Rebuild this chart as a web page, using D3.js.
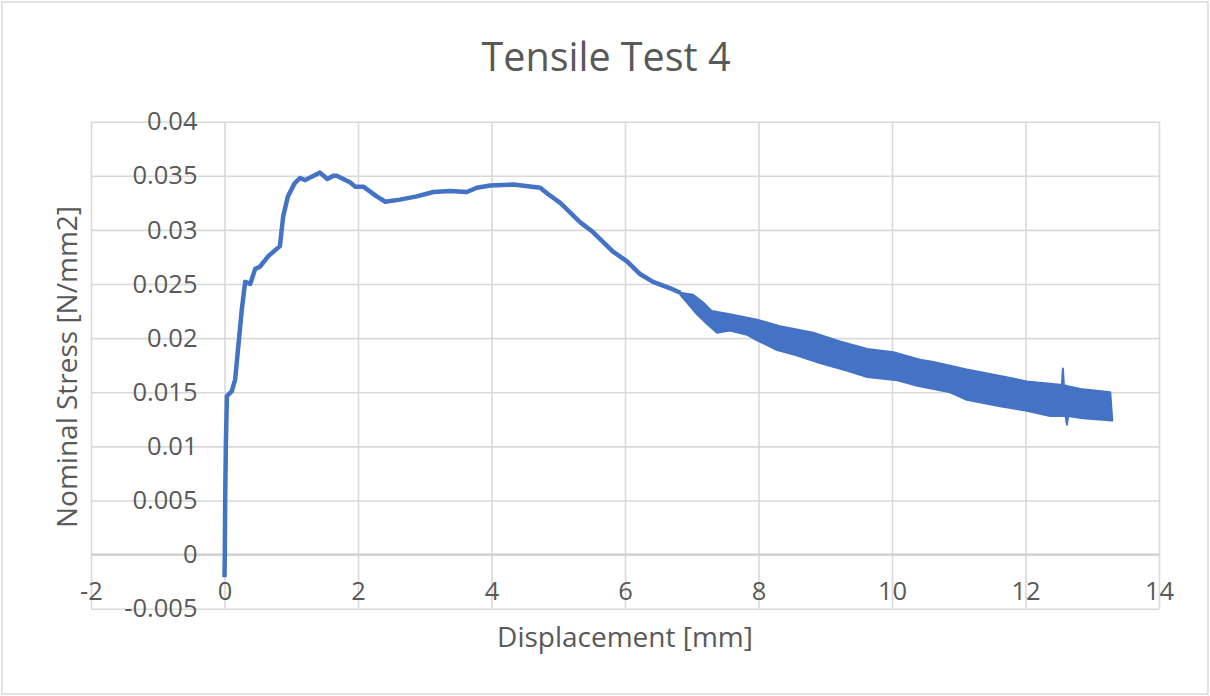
<!DOCTYPE html>
<html>
<head>
<meta charset="utf-8">
<script src="https://cdn.jsdelivr.net/npm/d3@7"></script>
<style>
  body { margin: 0; background: #fff; }
  svg text { font-family: 'Open Sans', sans-serif; fill: #595959; }
</style>
</head>
<body>
<div id="chart"></div>
<script>
// displacement [mm] vs nominal stress [N/mm2]
const dispX = [0, 0.005, 0.01, 0.02, 0.036, 0.11, 0.16, 0.26, 0.31, 0.385, 0.46, 0.53, 0.66,
  0.83, 0.88, 0.95, 1.05, 1.13, 1.21, 1.3, 1.43, 1.54, 1.63, 1.68, 1.88, 1.96, 2.08, 2.28,
  2.41, 2.63, 2.88, 3.13, 3.38, 3.63, 3.78, 3.98, 4.33, 4.73, 4.85, 5.03, 5.33, 5.52, 5.82,
  6.03, 6.23, 6.42, 6.72, 6.83];
const stress = [-0.0021, 0.0, 0.005, 0.01, 0.01465, 0.0151, 0.0162, 0.0227, 0.0252, 0.025,
  0.0264, 0.0266, 0.0276, 0.0285, 0.0313, 0.0331, 0.0343, 0.0348, 0.0346, 0.0349, 0.0353,
  0.0347, 0.035, 0.035, 0.0344, 0.034, 0.034, 0.0331, 0.0326, 0.0328, 0.0331, 0.0335,
  0.0336, 0.0335, 0.0339, 0.0341, 0.0342, 0.0339, 0.0333, 0.0325, 0.0307, 0.0298, 0.028,
  0.0271, 0.0259, 0.0252, 0.0245, 0.0242];

// noisy part after ~7 mm: top and bottom edge of the band
const topX = [6.83, 7.02, 7.17, 7.30, 7.57, 7.98, 8.32, 8.82, 9.22, 9.63, 10.02, 10.42, 10.62,
  11.12, 11.62, 12.02, 12.52, 12.545, 12.56, 12.575, 12.6, 12.82, 13.27];
const topY = [0.0242, 0.0240, 0.0233, 0.0225, 0.0222, 0.0217, 0.0211, 0.0205, 0.0197, 0.0190,
  0.0187, 0.0180, 0.0178, 0.0171, 0.0165, 0.0160, 0.0157, 0.0157, 0.0172, 0.0157, 0.0156,
  0.0153, 0.0150];
const bottomX = [6.83, 7.08, 7.23, 7.38, 7.57, 7.83, 7.98, 8.28, 8.58, 8.92, 9.32, 9.63, 10.08,
  10.38, 10.87, 11.12, 11.62, 12.02, 12.37, 12.6, 12.62, 12.64, 12.86, 13.30];
const bottomY = [0.0240, 0.0222, 0.0213, 0.0205, 0.0207, 0.0203, 0.0198, 0.0189, 0.0184,
  0.0177, 0.0170, 0.0164, 0.0161, 0.0156, 0.0150, 0.0143, 0.0137, 0.0133, 0.0128, 0.0128,
  0.0120, 0.0128, 0.0126, 0.0124];

const xTicks = [-2, 0, 2, 4, 6, 8, 10, 12, 14];
const yTicks = [-0.005, 0, 0.005, 0.01, 0.015, 0.02, 0.025, 0.03, 0.035, 0.04];

const W = 1210, H = 696;
const margin = { top: 121.7, right: 51, bottom: 87.3, left: 91 };
const width = W - margin.left - margin.right;
const height = H - margin.top - margin.bottom;

const svg = d3.select('#chart').append('svg')
  .attr('width', W)
  .attr('height', H);

svg.append('rect')
  .attr('x', 2).attr('y', 2)
  .attr('width', W - 4).attr('height', H - 4)
  .attr('fill', '#fff')
  .attr('stroke', '#d9d9d9')
  .attr('stroke-width', 1.5);

const xScale = d3.scaleLinear().domain([-2, 14]).range([0, width]);
const yScale = d3.scaleLinear().domain([-0.005, 0.04]).range([height, 0]);

const chart = svg.append('g')
  .attr('transform', 'translate(' + margin.left + ',' + margin.top + ')');

// gridlines
chart.append('g')
  .attr('class', 'x grid')
  .attr('transform', 'translate(0,' + height + ')')
  .call(d3.axisBottom(xScale).tickValues(xTicks).tickSize(-height).tickFormat(''));
chart.append('g')
  .attr('class', 'y grid')
  .call(d3.axisLeft(yScale).tickValues(yTicks).tickSize(-width).tickFormat(''));
chart.selectAll('.grid line').attr('stroke', '#d9d9d9').attr('stroke-width', 1.6);
chart.selectAll('.grid .domain').remove();

// horizontal axis sits at zero
chart.append('line')
  .attr('x1', 0).attr('x2', width)
  .attr('y1', yScale(0)).attr('y2', yScale(0))
  .attr('stroke', '#d0d0d0').attr('stroke-width', 2);

// tick labels
const fmt = d => String(+d.toFixed(3));
const yAxis = chart.append('g')
  .attr('transform', 'translate(' + xScale(0) + ',0)')
  .call(d3.axisLeft(yScale).tickValues(yTicks).tickSize(0).tickPadding(27).tickFormat(fmt));
const xAxis = chart.append('g')
  .attr('transform', 'translate(0,' + yScale(0) + ')')
  .call(d3.axisBottom(xScale).tickValues(xTicks).tickSize(0).tickFormat(d => d));
[xAxis, yAxis].forEach(a => {
  a.select('.domain').remove();
  a.selectAll('text').attr('font-family', "'Open Sans', sans-serif")
    .attr('font-size', 25.5).attr('fill', '#595959');
});
xAxis.selectAll('text').attr('y', 36).attr('dy', '0.35em');

// curve
const line = d3.line()
  .x((d, i) => xScale(dispX[i]))
  .y((d, i) => yScale(stress[i]));
chart.append('path')
  .datum(stress)
  .attr('fill', 'none')
  .attr('stroke', '#4472c4')
  .attr('stroke-width', 4.5)
  .attr('stroke-linejoin', 'round')
  .attr('d', line);

// band outline: along the top, back along the bottom
const bandPts = topX.map((x, i) => [x, topY[i]])
  .concat(bottomX.map((x, i) => [x, bottomY[i]]).reverse());
chart.append('path')
  .datum(bandPts)
  .attr('fill', '#4472c4')
  .attr('stroke', '#4472c4')
  .attr('stroke-width', 2)
  .attr('stroke-linejoin', 'round')
  .attr('d', d3.line().x(d => xScale(d[0])).y(d => yScale(d[1])).curve(d3.curveLinearClosed));

// titles
svg.append('text')
  .attr('x', 606).attr('y', 71)
  .attr('text-anchor', 'middle')
  .attr('font-size', 39.5)
  .text('Tensile Test 4');

svg.append('text')
  .attr('x', margin.left + xScale(6)).attr('y', 647)
  .attr('text-anchor', 'middle')
  .attr('font-size', 28)
  .text('Displacement [mm]');

svg.append('text')
  .attr('transform', 'translate(77,367) rotate(-90)')
  .attr('text-anchor', 'middle')
  .attr('font-size', 28)
  .text('Nominal Stress [N/mm2]');
</script>
</body>
</html>
